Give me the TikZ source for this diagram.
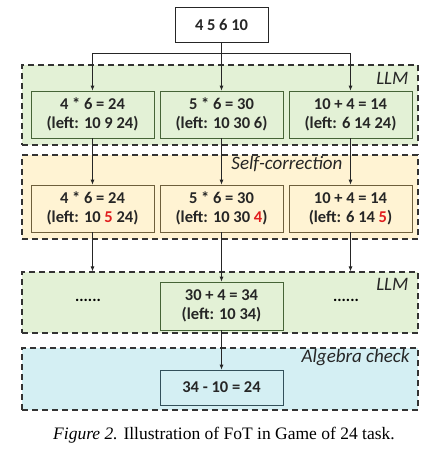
\documentclass[tikz,border=0pt]{standalone}
\usepackage{fontspec}
\setmainfont{Liberation Serif}
\setsansfont{Carlito}
\usetikzlibrary{arrows.meta}

\begin{document}
\begin{tikzpicture}[x=1pt,y=-1pt]
  \definecolor{llmfill}{RGB}{227,241,214}
  \definecolor{llmline}{RGB}{70,100,55}
  \definecolor{fixfill}{RGB}{255,243,211}
  \definecolor{fixline}{RGB}{110,95,60}
  \definecolor{chkfill}{RGB}{212,239,243}
  \definecolor{chkline}{RGB}{50,80,90}
  \definecolor{wrong}{RGB}{225,30,30}
  \tikzset{
    panel/.style={draw=black!80,dash pattern=on 6pt off 4pt,line width=1.2pt,
      minimum width=396,inner sep=0pt},
    stepbox/.style={draw,line width=0.7pt,minimum width=123,minimum height=47,
      align=center,inner sep=2pt,font=\sffamily\bfseries\fontsize{16.5}{19}\selectfont,text=black!85},
    tag/.style={anchor=east,font=\sffamily\itshape\fontsize{19}{21}\selectfont,text=black!85},
    arr/.style={-{Latex[length=5pt,width=4pt]},line width=0.8pt,black!85}
  }
  \useasboundingbox (0,0) rectangle (447,455);
  % panels
  \node[panel,fill=llmfill,minimum height=80] (llmA) at (220,105) {};
  \node[panel,fill=fixfill,minimum height=84] (fix) at (220,197) {};
  \node[panel,fill=llmfill,minimum height=61] (llmB) at (220,302.5) {};
  \node[panel,fill=chkfill,minimum height=62] (chk) at (220,379) {};
  \node[tag] (tagA) at (412,78) {LLM};
  \node[tag] (tagfix) at (346,164) {Self-correction};
  \node[tag] (tagB) at (412,284) {LLM};
  \node[tag] (tagchk) at (413,358) {Algebra check};
  % start
  \node[stepbox,draw=black!85,fill=white,minimum width=93,minimum height=35] (start) at (221.5,24.5) {4 5 6 10};
  % first guesses
  \node[stepbox,draw=llmline,fill=llmfill] (a1) at (92.5,114.5) {4 * 6 = 24\\(left: 10 9 24)};
  \node[stepbox,draw=llmline,fill=llmfill] (a2) at (221.5,114.5) {5 * 6 = 30\\(left: 10 30 6)};
  \node[stepbox,draw=llmline,fill=llmfill] (a3) at (350.5,114.5) {10 + 4 = 14\\(left: 6 14 24)};
  % corrected
  \node[stepbox,draw=fixline,fill=fixfill] (c1) at (92.5,208.5) {4 * 6 = 24\\(left: 10 \textcolor{wrong}{5} 24)};
  \node[stepbox,draw=fixline,fill=fixfill] (c2) at (221.5,208.5) {5 * 6 = 30\\(left: 10 30 \textcolor{wrong}{4})};
  \node[stepbox,draw=fixline,fill=fixfill] (c3) at (350.5,208.5) {10 + 4 = 14\\(left: 6 14 \textcolor{wrong}{5})};
  % next step
  \node[stepbox,draw=llmline,fill=llmfill,minimum height=48] (m) at (221.5,306) {30 + 4 = 34\\(left: 10 34)};
  \node[font=\sffamily\bfseries\fontsize{16}{18}\selectfont] (dotsL) at (88,300) {......};
  \node[font=\sffamily\bfseries\fontsize{16}{18}\selectfont] (dotsR) at (346,300) {......};
  % check
  \node[stepbox,draw=chkline,fill=chkfill,minimum height=35] (res) at (221.5,387.5) {34 - 10 = 24};
  % connectors
  \draw[arr] (start.south) -- (a2.north);
  \draw[arr] (start.south) -- ++(0,11) -| (a1.north);
  \draw[arr] (start.south) -- ++(0,11) -| (a3.north);
  \foreach \i in {1,2,3}{
    \draw[arr] (a\i.south) -- (c\i.north);
  }
  \draw[arr] (c1.south) -- (c1.south |- llmB.north);
  \draw[arr] (c3.south) -- (c3.south |- llmB.north);
  \draw[arr] (c2.south) -- (m.north);
  \draw[arr] (m.south) -- (res.north);
  % caption
  \node[font=\fontsize{17.5}{20}\selectfont] (cap) at (224,435) {\textit{Figure 2.} Illustration of FoT in Game of 24 task.};
\end{tikzpicture}
\end{document}
